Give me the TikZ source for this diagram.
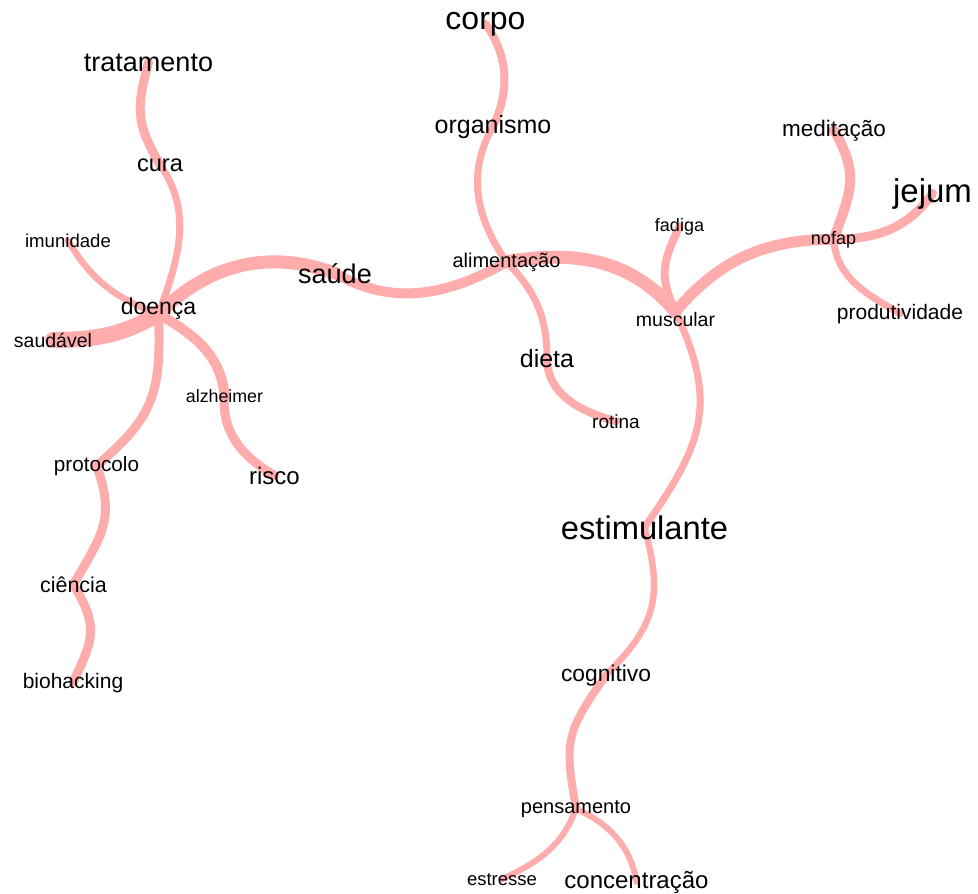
\documentclass[tikz,border=0pt]{standalone}
\usepackage{fontspec}
\setmainfont{Liberation Sans}
\usetikzlibrary{backgrounds}
\definecolor{linkpink}{RGB}{255,172,172}
\tikzset{
  word/.style={anchor=base,inner sep=0pt,font=\fontsize{#1}{#1}\selectfont},
  link/.style={draw=linkpink,line width=#1,line cap=round},
}
\begin{document}
\begin{tikzpicture}[x=1pt,y=1pt]
        \useasboundingbox (0,0) rectangle (978,-894);
        %% words
        \node[word=32] (corpo) at (485.5,-29) {corpo};
        \node[word=25] (organismo) at (493,-133) {organismo};
        \node[word=20] (alimentacao) at (506.5,-267) {alimentação};
        \node[word=25] (dieta) at (547,-367) {dieta};
        \node[word=19] (rotina) at (616,-428) {rotina};
        \node[word=27] (saude) at (335,-283) {saúde};
        \node[word=23] (doenca) at (158.5,-314) {doença};
        \node[word=27] (tratamento) at (148.5,-71) {tratamento};
        \node[word=23.6] (cura) at (160,-171) {cura};
        \node[word=18.6] (imunidade) at (68,-247) {imunidade};
        \node[word=19.5] (saudavel) at (53,-347) {saudável};
        \node[word=17.8] (alzheimer) at (224.5,-402) {alzheimer};
        \node[word=24] (risco) at (274.5,-484) {risco};
        \node[word=20.7] (protocolo) at (96.5,-471) {protocolo};
        \node[word=21.5] (ciencia) at (73.5,-592) {ciência};
        \node[word=21] (biohacking) at (73,-688) {biohacking};
        \node[word=18] (fadiga) at (679.5,-231) {fadiga};
        \node[word=19.5] (muscular) at (675.5,-326) {muscular};
        \node[word=18] (nofap) at (833.5,-244) {nofap};
        \node[word=22.5] (meditacao) at (834,-136) {meditação};
        \node[word=33] (jejum) at (932.5,-202) {jejum};
        \node[word=21] (produtividade) at (900,-319) {produtividade};
        \node[word=32.7] (estimulante) at (644.5,-539) {estimulante};
        \node[word=22.8] (cognitivo) at (606,-681) {cognitivo};
        \node[word=20] (pensamento) at (576,-813) {pensamento};
        \node[word=18.5] (estresse) at (502,-885) {estresse};
        \node[word=24] (concentracao) at (636.5,-888) {concentração};
        %% links
        \begin{scope}[on background layer]
        \draw[link=8] (corpo.center) to[out=-55,in=65] (organismo.center);
        \draw[link=7] (organismo.center) to[out=-120,in=125] (alimentacao.center);
        \draw[link=7] (alimentacao.center) to[out=-45,in=90] (dieta.center);
        \draw[link=8] (dieta.center) to[out=-90,in=165] (rotina.center);
        \draw[link=10] (alimentacao.center) to[out=210,in=-30] (saude.center);
        \draw[link=13] (doenca.base) to[out=45,in=160] (saude.center);
        \draw[link=13] (alimentacao.center) to[out=10,in=130] (muscular.north);
        \draw[link=8] (muscular.north) to[out=115,in=-115,looseness=1.2] (fadiga.center);
        \draw[link=11] (muscular.north) to[out=50,in=180] (nofap.center);
        \draw[link=9] (nofap.center) to[out=0,in=235] (jejum.center);
        \draw[link=10] (nofap.center) to[out=70,in=-60,looseness=1.2] (meditacao.center);
        \draw[link=7] (nofap.center) to[out=-85,in=150] (produtividade.center);
        \draw[link=7] (muscular.north) to[out=-65,in=55,looseness=1.2] (estimulante.center);
        \draw[link=6.5] (estimulante.center) to[out=-75,in=45,looseness=1.2] (cognitivo.center);
        \draw[link=8] (cognitivo.center) to[out=-125,in=100,looseness=1.3] (pensamento.center);
        \draw[link=6] (pensamento.center) to[out=-110,in=25] (estresse.center);
        \draw[link=6] (pensamento.center) to[out=-25,in=100] (concentracao.center);
        \draw[link=7] (doenca.base) to[out=70,in=-55] (cura.center);
        \draw[link=9] (cura.center) to[out=120,in=-105,looseness=1.2] (tratamento.center);
        \draw[link=6.5] (doenca.base) to[out=160,in=-60] (imunidade.center);
        \draw[link=16] (doenca.base) to[out=-150,in=0] (saudavel.center);
        \draw[link=10] (doenca.base) to[out=-30,in=95] (alzheimer.center);
        \draw[link=9] (alzheimer.center) to[out=-95,in=150] (risco.center);
        \draw[link=9] (doenca.base) to[out=-88,in=40,looseness=1.2] (protocolo.center);
        \draw[link=9] (protocolo.center) to[out=-70,in=60,looseness=1.2] (ciencia.center);
        \draw[link=9] (ciencia.center) to[out=-60,in=65,looseness=1.3] (biohacking.center);
        \end{scope}
\end{tikzpicture}
\end{document}
